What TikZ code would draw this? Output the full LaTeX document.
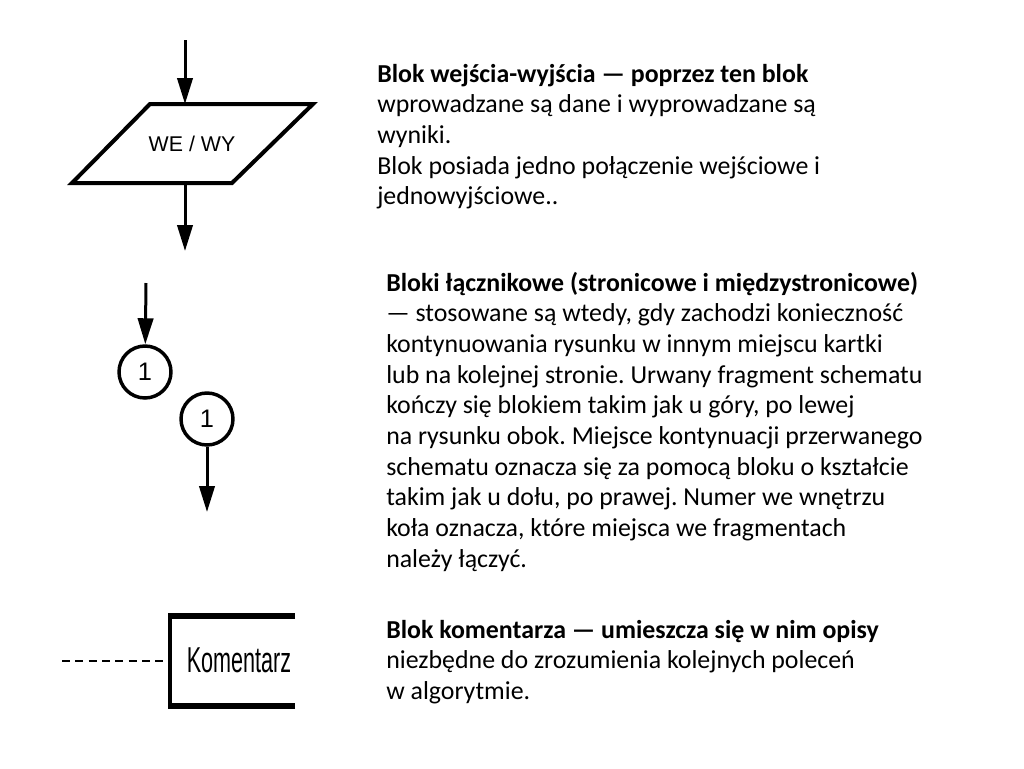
\documentclass[tikz,border=0pt]{standalone}
\usepackage{fontspec}
\setmainfont{Carlito}
\newfontfamily\arialfont{Liberation Sans}
\newfontfamily\narrowfont[FakeStretch=0.6]{Liberation Sans}
\usetikzlibrary{arrows.meta, positioning}

\tikzset{
  flowline/.style={line width=2.25pt, -{Triangle[length=19.5pt,width=11.5pt]}},
  blockline/.style={line width=3pt, line join=miter},
  connector/.style={circle, draw, line width=2.6pt, minimum size=39pt, inner sep=0pt,
    font=\arialfont\fontsize{19}{19}\selectfont},
  desc/.style={anchor=base west, inner sep=0pt}
}
\newcommand{\desctext}[1]{\parbox[t]{18cm}{\raggedright\frenchspacing\fontsize{19.4}{23}\selectfont #1}}

\begin{document}
\begin{tikzpicture}[x=0.75pt, y=-0.75pt]
\useasboundingbox (0,0) rectangle (1024,768);
% Blok wejscia-wyjscia
\draw[blockline] (150,104) -- (313,104) -- (232,183) -- (72,183) -- cycle;
\node[font=\arialfont\fontsize{16}{16}\selectfont] (io) at (192,144) {WE / WY};
\coordinate (ioin) at (185,40);
\coordinate (iotop) at (185,104);
\coordinate (iobot) at (185,183);
\coordinate (ioout) at (185,251);
\draw[flowline] (ioin) -- (iotop);
\draw[flowline] (iobot) -- (ioout);
% Bloki lacznikowe
\node[connector] (conA) at (145,372) {1};
\node[connector] (conB) at (207,419) {1};
\coordinate (conAin) at (146,283);
\coordinate (conBout) at (207,512);
\draw[flowline] (conAin) -- (conA);
\draw[flowline] (conB) -- (conBout);
% Blok komentarza
\coordinate (nt) at (295,616);
\coordinate (nb) at (295,706);
\draw[line width=4.5pt] (nt) -- (168,616);
\draw[line width=4.5pt] (nb) -- (168,706);
\draw[line width=3pt] (170,614) -- (170,708);
\node[font=\narrowfont\fontsize{27}{27}\selectfont] (note) at (239,660) {Komentarz};
\coordinate (notefrom) at (62,661);
\draw[line width=1.5pt, dash pattern=on 6pt off 4pt] (notefrom) -- (170,661);
% Opisy
\node[desc] (txtio) at (377,82) {\desctext{%
\textbf{Blok wejścia-wyjścia — poprzez ten blok}\\
wprowadzane są dane i wyprowadzane są\\
wyniki.\\
Blok posiada jedno połączenie wejściowe i\\
jednowyjściowe..}};
\node[desc] (txtconn) at (386,291) {\desctext{%
\textbf{Bloki łącznikowe (stronicowe i międzystronicowe)}\\
— stosowane są wtedy, gdy zachodzi konieczność\\
kontynuowania rysunku w innym miejscu kartki\\
lub na kolejnej stronie. Urwany fragment schematu\\
kończy się blokiem takim jak u góry, po lewej\\
na rysunku obok. Miejsce kontynuacji przerwanego\\
schematu oznacza się za pomocą bloku o kształcie\\
takim jak u dołu, po prawej. Numer we wnętrzu\\
koła oznacza, które miejsca we fragmentach\\
należy łączyć.}};
\node[desc] (txtnote) at (386,638) {\desctext{%
\textbf{Blok komentarza — umieszcza się w nim opisy}\\
niezbędne do zrozumienia kolejnych poleceń\\
w algorytmie.}};
\end{tikzpicture}
\end{document}
